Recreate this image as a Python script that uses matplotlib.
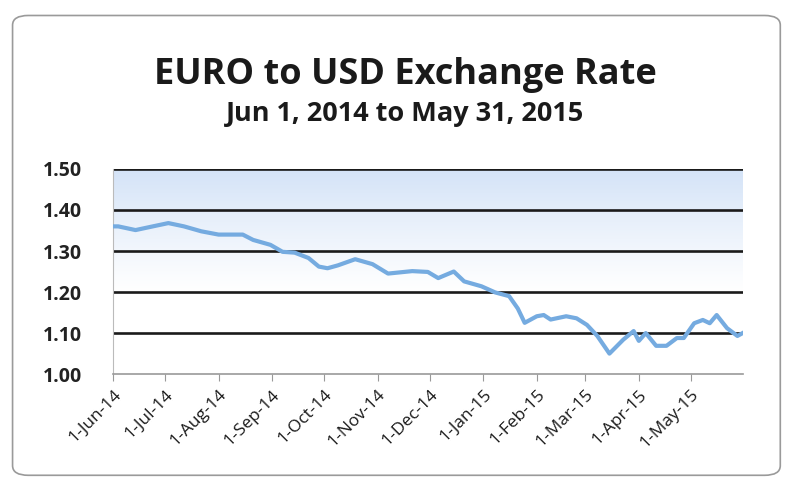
import matplotlib
matplotlib.use("Agg")
import matplotlib.pyplot as plt
import matplotlib.dates as mdates
from matplotlib.patches import FancyBboxPatch
import numpy as np
import pandas as pd

# daily EUR/USD close, sampled
dates = ["2014-06-01", "2014-06-04", "2014-06-14", "2014-06-24", "2014-07-03",
         "2014-07-12", "2014-07-22", "2014-08-01", "2014-08-15", "2014-08-21",
         "2014-08-31", "2014-09-07", "2014-09-14", "2014-09-22", "2014-09-28",
         "2014-10-03", "2014-10-09", "2014-10-19", "2014-10-29", "2014-11-07",
         "2014-11-21", "2014-11-30", "2014-12-06", "2014-12-15", "2014-12-21",
         "2014-12-31", "2015-01-08", "2015-01-16", "2015-01-21", "2015-01-25",
         "2015-02-01", "2015-02-05", "2015-02-09", "2015-02-18", "2015-02-24",
         "2015-03-02", "2015-03-08", "2015-03-15", "2015-03-23", "2015-03-29",
         "2015-04-01", "2015-04-05", "2015-04-11", "2015-04-17", "2015-04-23",
         "2015-04-27", "2015-05-03", "2015-05-08", "2015-05-12", "2015-05-16",
         "2015-05-22", "2015-05-28", "2015-05-31"]
rates = [1.360, 1.360, 1.351, 1.360, 1.368,
         1.360, 1.348, 1.340, 1.340, 1.327,
         1.315, 1.298, 1.296, 1.283, 1.262,
         1.258, 1.265, 1.280, 1.268, 1.245,
         1.251, 1.249, 1.234, 1.250, 1.226,
         1.214, 1.199, 1.190, 1.160, 1.125,
         1.141, 1.144, 1.133, 1.141, 1.136,
         1.120, 1.093, 1.050, 1.084, 1.105,
         1.081, 1.100, 1.069, 1.069, 1.088,
         1.088, 1.124, 1.132, 1.124, 1.144,
         1.112, 1.093, 1.100]

tick_dates = ["2014-06-01", "2014-07-01", "2014-08-01", "2014-09-01", "2014-10-01",
              "2014-11-01", "2014-12-01", "2015-01-01", "2015-02-01", "2015-03-01",
              "2015-04-01", "2015-05-01"]
y_ticks = [1.00, 1.10, 1.20, 1.30, 1.40, 1.50]

title = "EURO to USD Exchange Rate"
subtitle = "Jun 1, 2014 to May 31, 2015"

x = pd.to_datetime(dates)
xt = pd.to_datetime(tick_dates)
x0 = mdates.date2num(pd.Timestamp("2014-06-01"))
x1 = mdates.date2num(pd.Timestamp("2015-05-31"))

plt.rcParams['font.family'] = ['Open Sans', 'DejaVu Sans']

fig = plt.figure(figsize=(7.85, 4.84), dpi=100)
fig.patch.set_facecolor("white")

# rounded chart border
frame = FancyBboxPatch((0.016, 0.018), 0.978, 0.95,
                       boxstyle="round,pad=0,rounding_size=0.02",
                       transform=fig.transFigure, facecolor="none",
                       edgecolor="#9a9a9a", linewidth=1.2, zorder=0)
fig.patches.append(frame)

ax = fig.add_axes([0.144, 0.227, 0.802, 0.424])
ax.set_xlim(x0, x1)
ax.set_ylim(1.0, 1.5)

# light blue fade behind the plot, strongest at the top
grad = np.linspace(0, 1, 256).reshape(-1, 1)
top = np.array([0.83, 0.89, 0.97])
alpha = np.clip((grad - 0.4) / 0.6, 0, 1) ** 1.1
img = np.ones((256, 1, 3)) * (1 - alpha[..., None]) + top * alpha[..., None]
ax.imshow(img, extent=[x0, x1, 1.0, 1.5], origin="lower", aspect="auto", zorder=0)

for yv in y_ticks[1:]:
    ax.axhline(yv, color="#1a1a1a", linewidth=1.9, zorder=1)

ax.plot(x, rates, color="#75abe0", linewidth=3, solid_joinstyle="round", zorder=3)

ax.set_yticks(y_ticks)
ax.set_yticklabels(["%.2f" % v for v in y_ticks], fontsize=14, fontweight="bold",
                   color="#222222")
ax.set_xticks(mdates.date2num(xt))
ax.set_xticklabels([d.strftime("%-d-%b-%y") for d in xt], rotation=45, ha="right",
                   rotation_mode="anchor", fontsize=12.5, color="#1a1a1a")
ax.tick_params(axis="y", length=0, pad=22)
ax.tick_params(axis="x", length=5, color="#999999", pad=4)

for s in ["top", "right"]:
    ax.spines[s].set_visible(False)
ax.spines["left"].set_color("#bbbbbb")
ax.spines["bottom"].set_color("#999999")
ax.spines["bottom"].set_linewidth(1.2)

fig.text(0.516, 0.845, title, ha="center", va="center", fontsize=26,
         fontweight="bold", color="#1a1a1a")
fig.text(0.516, 0.765, subtitle, ha="center", va="center", fontsize=19.5,
         fontweight="bold", color="#1a1a1a")

fig.savefig("out.png", dpi=100)
